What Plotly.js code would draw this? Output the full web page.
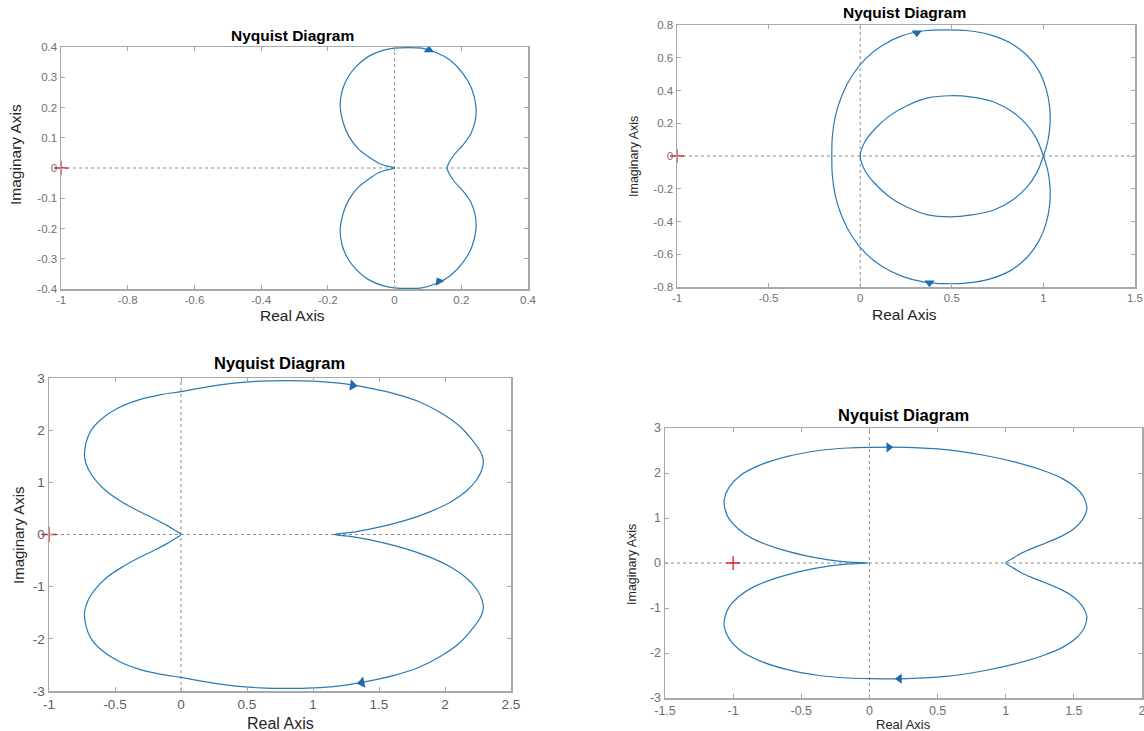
<!DOCTYPE html>
<html>
<head>
<meta charset="utf-8">
<script src="https://cdn.plot.ly/plotly-3.0.1.min.js"></script>
<style>html,body{margin:0;padding:0;background:#fff;}#chart{width:1144px;height:731px;}</style>
</head>
<body>
<div id="chart"></div>
<script>
// ---------- data ----------
// Panel 1 (top-left)
const p1X = [0, -0.025, -0.046, -0.078, -0.110, -0.136, -0.155, -0.163, -0.158, -0.142, -0.115, -0.078, -0.035, 0, 0.039, 0.082, 0.125, 0.167, 0.205, 0.231, 0.244, 0.242, 0.229, 0.205, 0.178, 0.162, 0.157,
             0.162, 0.178, 0.205, 0.229, 0.242, 0.244, 0.231, 0.205, 0.167, 0.125, 0.082, 0.039, 0, -0.035, -0.078, -0.115, -0.142, -0.158, -0.163, -0.155, -0.136, -0.110, -0.078, -0.046, -0.025, 0];
const p1Y = [0, 0.007, 0.015, 0.037, 0.065, 0.103, 0.153, 0.202, 0.252, 0.296, 0.336, 0.369, 0.389, 0.396, 0.398, 0.396, 0.382, 0.356, 0.312, 0.263, 0.202, 0.158, 0.114, 0.076, 0.043, 0.015, 0,
             -0.015, -0.043, -0.076, -0.114, -0.158, -0.202, -0.263, -0.312, -0.356, -0.382, -0.396, -0.398, -0.396, -0.389, -0.369, -0.336, -0.296, -0.252, -0.202, -0.153, -0.103, -0.065, -0.037, -0.015, -0.007, 0];
const p1ArrowX = [0.103, 0.133];
const p1ArrowY = [0.390, -0.375];
const p1XTicks = [-1, -0.8, -0.6, -0.4, -0.2, 0, 0.2, 0.4];
const p1XText = ["-1", "-0.8", "-0.6", "-0.4", "-0.2", "0", "0.2", "0.4"];
const p1YTicks = [-0.4, -0.3, -0.2, -0.1, 0, 0.1, 0.2, 0.3, 0.4];
const p1YText = ["-0.4", "-0.3", "-0.2", "-0.1", "0", "0.1", "0.2", "0.3", "0.4"];

// Panel 2 (top-right): inner loop (upper half) -> outer loop -> inner loop (lower half)
const p2X = [0, 0.025, 0.08, 0.16, 0.26, 0.37, 0.49, 0.61, 0.73, 0.83, 0.91, 0.965, 1.0,
             1.024, 1.036, 1.034, 1.015, 0.975, 0.91, 0.82, 0.71, 0.59, 0.47, 0.35, 0.23, 0.12, 0.03, -0.045, -0.10, -0.135, -0.152, -0.155,
             -0.152, -0.135, -0.10, -0.045, 0.03, 0.12, 0.23, 0.35, 0.47, 0.59, 0.71, 0.82, 0.91, 0.975, 1.015, 1.034, 1.036, 1.024, 1.0,
             0.965, 0.91, 0.83, 0.73, 0.61, 0.49, 0.37, 0.26, 0.16, 0.08, 0.025, 0];
const p2Y = [0, 0.085, 0.165, 0.245, 0.31, 0.355, 0.368, 0.36, 0.33, 0.27, 0.19, 0.10, 0,
             -0.09, -0.19, -0.30, -0.41, -0.52, -0.62, -0.70, -0.75, -0.775, -0.78, -0.77, -0.735, -0.675, -0.595, -0.49, -0.37, -0.245, -0.12, 0,
             0.12, 0.245, 0.37, 0.49, 0.595, 0.675, 0.735, 0.765, 0.77, 0.765, 0.74, 0.69, 0.615, 0.52, 0.41, 0.30, 0.19, 0.09, 0,
             -0.10, -0.19, -0.27, -0.33, -0.36, -0.372, -0.36, -0.315, -0.25, -0.168, -0.087, 0];
const p2ArrowX = [0.309, 0.378];
const p2ArrowY = [0.752, -0.774];
const p2XTicks = [-1, -0.5, 0, 0.5, 1, 1.5];
const p2XText = ["-1", "-0.5", "0", "0.5", "1", "1.5"];
const p2YTicks = [-0.8, -0.6, -0.4, -0.2, 0, 0.2, 0.4, 0.6, 0.8];
const p2YText = ["-0.8", "-0.6", "-0.4", "-0.2", "0", "0.2", "0.4", "0.6", "0.8"];

// Panel 3 (bottom-left)
const p3X = [0, -0.04, -0.11, -0.21, -0.33, -0.45, -0.56, -0.64, -0.70, -0.73, -0.72, -0.68, -0.60, -0.48, -0.32, -0.15, 0, 0.2, 0.4, 0.6, 0.8, 1.0, 1.2, 1.4, 1.6, 1.8, 1.97, 2.11, 2.21, 2.27, 2.29, 2.28, 2.24, 2.16, 2.04, 1.88, 1.70, 1.50, 1.32, 1.16,
             1.32, 1.50, 1.70, 1.88, 2.04, 2.16, 2.24, 2.28, 2.29, 2.27, 2.21, 2.11, 1.97, 1.8, 1.6, 1.4, 1.2, 1.0, 0.8, 0.6, 0.4, 0.2, 0, -0.15, -0.32, -0.48, -0.60, -0.68, -0.72, -0.73, -0.70, -0.64, -0.56, -0.45, -0.33, -0.21, -0.11, -0.04, 0];
const p3Y = [0, 0.07, 0.18, 0.31, 0.46, 0.63, 0.82, 1.02, 1.24, 1.47, 1.75, 2.00, 2.22, 2.42, 2.58, 2.68, 2.74, 2.83, 2.90, 2.94, 2.95, 2.94, 2.90, 2.82, 2.71, 2.55, 2.33, 2.08, 1.80, 1.58, 1.43, 1.25, 1.05, 0.83, 0.62, 0.43, 0.27, 0.14, 0.05, 0,
             -0.05, -0.14, -0.27, -0.43, -0.62, -0.83, -1.05, -1.25, -1.43, -1.58, -1.80, -2.08, -2.33, -2.55, -2.71, -2.82, -2.90, -2.94, -2.95, -2.94, -2.90, -2.83, -2.74, -2.68, -2.58, -2.42, -2.22, -2.00, -1.75, -1.47, -1.24, -1.02, -0.82, -0.63, -0.46, -0.31, -0.18, -0.07, 0];
const p3ArrowX = [1.30, 1.37];
const p3ArrowY = [2.86, -2.84];
const p3XTicks = [-1, -0.5, 0, 0.5, 1, 1.5, 2, 2.5];
const p3XText = ["-1", "-0.5", "0", "0.5", "1", "1.5", "2", "2.5"];
const p3YTicks = [-3, -2, -1, 0, 1, 2, 3];
const p3YText = ["-3", "-2", "-1", "0", "1", "2", "3"];

// Panel 4 (bottom-right)
const p4X = [0, -0.15, -0.30, -0.48, -0.68, -0.85, -0.96, -1.03, -1.06, -1.065, -1.03, -0.95, -0.80, -0.60, -0.37, -0.16, 0, 0.28, 0.56, 0.83, 1.07, 1.27, 1.42, 1.52, 1.575, 1.595, 1.595, 1.565, 1.50, 1.40, 1.29, 1.19, 1.11, 1.05, 1.0,
             1.05, 1.11, 1.19, 1.29, 1.40, 1.50, 1.565, 1.595, 1.595, 1.575, 1.52, 1.42, 1.27, 1.07, 0.83, 0.56, 0.28, 0, -0.16, -0.37, -0.60, -0.80, -0.95, -1.03, -1.065, -1.06, -1.03, -0.96, -0.85, -0.68, -0.48, -0.30, -0.15, 0];
const p4Y = [0, 0.02, 0.07, 0.17, 0.33, 0.53, 0.75, 0.98, 1.20, 1.42, 1.68, 1.94, 2.18, 2.37, 2.50, 2.556, 2.57, 2.57, 2.52, 2.40, 2.24, 2.06, 1.87, 1.66, 1.45, 1.25, 1.18, 0.97, 0.76, 0.58, 0.44, 0.32, 0.21, 0.10, 0,
             -0.10, -0.21, -0.32, -0.44, -0.58, -0.76, -0.97, -1.18, -1.25, -1.45, -1.66, -1.87, -2.06, -2.24, -2.40, -2.52, -2.57, -2.57, -2.556, -2.50, -2.37, -2.18, -1.94, -1.68, -1.42, -1.20, -0.98, -0.75, -0.53, -0.33, -0.17, -0.07, -0.02, 0];
const p4ArrowX = [0.142, 0.220];
const p4ArrowY = [2.570, -2.570];
const p4XTicks = [-1.5, -1, -0.5, 0, 0.5, 1, 1.5, 2];
const p4XText = ["-1.5", "-1", "-0.5", "0", "0.5", "1", "1.5", "2"];
const p4YTicks = [-3, -2, -1, 0, 1, 2, 3];
const p4YText = ["-3", "-2", "-1", "0", "1", "2", "3"];

const criticalX = [-1];
const criticalY = [0];

const titleText = "Nyquist Diagram";
const xLabelText = "Real Axis";
const yLabelText = "Imaginary Axis";

// ---------- layout helpers (pixel frame -> paper) ----------
const W = 1144, H = 731;
const px = v => v / W;
const py = v => 1 - v / H;
const FONT = "Liberation Sans, Arial, Helvetica, sans-serif";
const LINE = "#2a7ab5";
const ARROW = "#1f6aad";
const FRAME = "#a8a8a8";

function axisPair(n, frame, xr, yr, xt, xtt, yt, ytt, tickSize, tickColor) {
  const xs = n === 1 ? "" : String(n);
  const common = {
    showgrid: false, zeroline: false, showline: true, mirror: "ticks",
    linecolor: FRAME, linewidth: 1.5, ticks: "inside", ticklen: 4, tickwidth: 1, tickcolor: FRAME,
    tickmode: "array", tickfont: {family: FONT, size: tickSize, color: tickColor}, fixedrange: true,
    ticklabeloverflow: "allow"
  };
  const xa = Object.assign({}, common, {
    domain: [px(frame[0]), px(frame[1])], range: xr, tickvals: xt, ticktext: xtt, anchor: "y" + xs
  });
  const ya = Object.assign({}, common, {
    domain: [py(frame[3]), py(frame[2])], range: yr, tickvals: yt, ticktext: ytt, anchor: "x" + xs
  });
  return [xa, ya];
}

const panels = [
  {n: 1, frame: [61, 528, 47, 289], xr: [-1, 0.4], yr: [-0.4, 0.4], xt: p1XTicks, xtt: p1XText, yt: p1YTicks, ytt: p1YText,
   X: p1X, Y: p1Y, AX: p1ArrowX, AY: p1ArrowY, asym: ["triangle-up", "triangle-up"], aang: [0, -30], asize: 9,
   tick: 11.5, tickColor: "#707070",
   title: [292, 35, 15.5], xl: [292, 315, 15.5], yl: [15, 155, 15.5], cross: 10},
  {n: 2, frame: [677, 1135, 25, 287], xr: [-1, 1.5], yr: [-0.8, 0.8], xt: p2XTicks, xtt: p2XText, yt: p2YTicks, ytt: p2YText,
   X: p2X, Y: p2Y, AX: p2ArrowX, AY: p2ArrowY, asym: ["triangle-down", "triangle-down"], aang: [0, 0], asize: 9,
   tick: 11.5, tickColor: "#707070",
   title: [904, 13, 15.5], xl: [904, 314, 15.5], yl: [634, 157, 12.5], cross: 10},
  {n: 3, frame: [49, 511, 378, 691], xr: [-1, 2.5], yr: [-3, 3], xt: p3XTicks, xtt: p3XText, yt: p3YTicks, ytt: p3YText,
   X: p3X, Y: p3Y, AX: p3ArrowX, AY: p3ArrowY, asym: ["triangle-right", "triangle-left"], aang: [8, -12], asize: 10,
   tick: 13.5, tickColor: "#5e5e5e",
   title: [279, 363, 16.5], xl: [280, 723, 16], yl: [18, 535, 15], cross: 11},
  {n: 4, frame: [665, 1142, 428, 698], xr: [-1.5, 2], yr: [-3, 3], xt: p4XTicks, xtt: p4XText, yt: p4YTicks, ytt: p4YText,
   X: p4X, Y: p4Y, AX: p4ArrowX, AY: p4ArrowY, asym: ["triangle-right", "triangle-left"], aang: [0, 0], asize: 9,
   tick: 12.5, tickColor: "#707070",
   title: [903, 415, 16.5], xl: [903, 724.5, 13], yl: [632, 564, 12.5], cross: 10}
];

const data = [];
const layout = {
  width: W, height: H, margin: {l: 0, r: 0, t: 0, b: 0, pad: 0},
  paper_bgcolor: "#ffffff", plot_bgcolor: "#ffffff", showlegend: false,
  font: {family: FONT}, annotations: [], shapes: []
};

panels.forEach(p => {
  const s = p.n === 1 ? "" : String(p.n);
  const [xa, ya] = axisPair(p.n, p.frame, p.xr, p.yr, p.xt, p.xtt, p.yt, p.ytt, p.tick, p.tickColor);
  layout["xaxis" + s] = xa;
  layout["yaxis" + s] = ya;
  layout.shapes.push({type: "line", xref: "x" + s, yref: "y" + s + " domain", x0: 0, x1: 0, y0: 0, y1: 1,
    line: {color: "#8c8c8c", width: 1, dash: "dot"}, layer: "below"});
  layout.shapes.push({type: "line", xref: "x" + s + " domain", yref: "y" + s, x0: 0, x1: 1, y0: 0, y1: 0,
    line: {color: "#8c8c8c", width: 1, dash: "dot"}, layer: "below"});
  data.push({type: "scatter", mode: "lines", x: p.X, y: p.Y, xaxis: "x" + s, yaxis: "y" + s,
    line: {color: LINE, width: 1.2, shape: "spline", smoothing: 0.8}, hoverinfo: "skip"});
  data.push({type: "scatter", mode: "markers", x: p.AX, y: p.AY, xaxis: "x" + s, yaxis: "y" + s,
    marker: {symbol: p.asym, angle: p.aang, size: p.asize, color: ARROW, line: {width: 0}}, hoverinfo: "skip"});
  data.push({type: "scatter", mode: "markers", x: criticalX, y: criticalY, xaxis: "x" + s, yaxis: "y" + s, cliponaxis: false,
    marker: {symbol: "cross-thin", size: p.cross, line: {color: "#e02020", width: 1.3}}, hoverinfo: "skip"});
  layout.annotations.push({text: "<b>" + titleText + "</b>", xref: "paper", yref: "paper", x: px(p.title[0]), y: py(p.title[1]),
    xanchor: "center", yanchor: "middle", showarrow: false, font: {family: FONT, size: p.title[2], color: "#000000"}});
  layout.annotations.push({text: xLabelText, xref: "paper", yref: "paper", x: px(p.xl[0]), y: py(p.xl[1]),
    xanchor: "center", yanchor: "middle", showarrow: false, font: {family: FONT, size: p.xl[2], color: "#262626"}});
  layout.annotations.push({text: yLabelText, xref: "paper", yref: "paper", x: px(p.yl[0]), y: py(p.yl[1]), textangle: -90,
    xanchor: "center", yanchor: "middle", showarrow: false, font: {family: FONT, size: p.yl[2], color: "#262626"}});
});

Plotly.newPlot("chart", data, layout, {displayModeBar: false, staticPlot: true});
</script>
</body>
</html>
